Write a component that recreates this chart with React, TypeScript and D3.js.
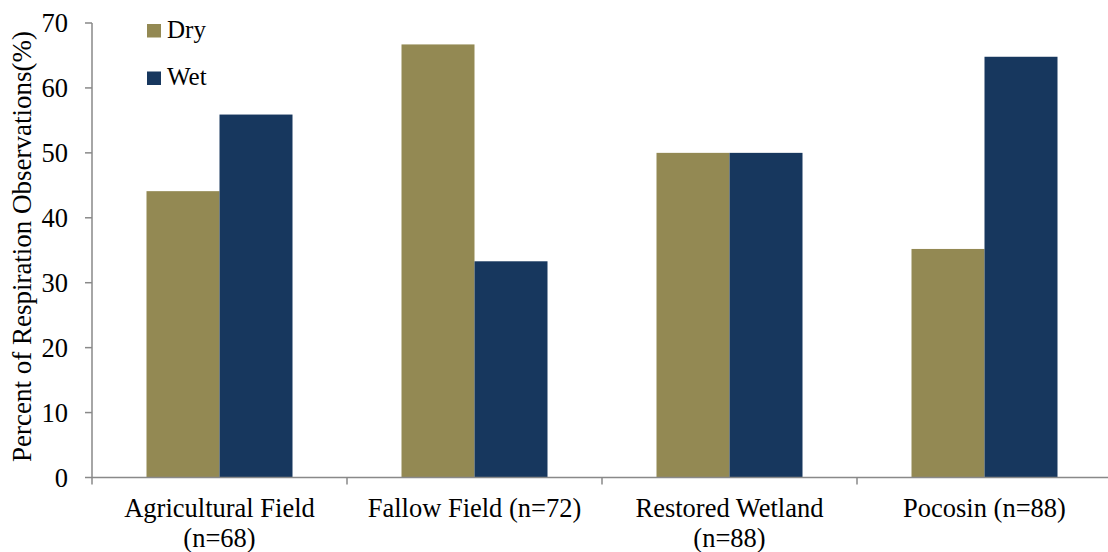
import React from "react";
import * as d3 from "d3";

const categories = ["Agricultural Field|(n=68)", "Fallow Field (n=72)", "Restored Wetland|(n=88)", "Pocosin (n=88)"];
const seriesNames = ["Dry", "Wet"];
const dryValues = [44.1, 66.7, 50.0, 35.2];
const wetValues = [55.9, 33.3, 50.0, 64.8];
const yTicks = [0, 10, 20, 30, 40, 50, 60, 70];
const colors = ["#938953", "#17375E"];

const W = 1108;
const H = 552;
const FONT = "'Liberation Serif', 'Times New Roman', serif";

export default function App() {
  const left = 92;
  const x = d3.scaleBand<string>().domain(categories).range([left, left + 4 * 255]).paddingInner(0).paddingOuter(0);
  const y = d3.scaleLinear().domain([0, 70]).range([477.5, 23]);
  const series = [dryValues, wetValues];
  const barW = 73;
  const gapSide = (x.bandwidth() - 2 * barW) / 2;

  return (
    <svg width={W} height={H} style={{ position: "absolute", left: 0, top: 0, background: "#fff" }} fontFamily={FONT}>
      {categories.map((c, i) =>
        series.map((vals, s) => {
          const x0 = (x(c) as number) + gapSide + s * barW;
          return (
            <rect key={c + s} x={x0} y={y(vals[i])} width={barW} height={y(0) - y(vals[i])} fill={colors[s]} />
          );
        })
      )}
      {/* y axis */}
      <line x1={left} x2={left} y1={y(70)} y2={y(0)} stroke="#898989" strokeWidth={1.5} />
      {yTicks.map((t) => (
        <g key={t}>
          <line x1={left - 7} x2={left} y1={y(t)} y2={y(t)} stroke="#898989" strokeWidth={1.5} />
          <text x={68} y={y(t)} dy="0.35em" textAnchor="end" fontSize={26.5} fill="#000">
            {t}
          </text>
        </g>
      ))}
      {/* x axis */}
      <line x1={left} x2={W} y1={y(0)} y2={y(0)} stroke="#898989" strokeWidth={1.5} />
      {categories.map((c, i) => (
        <line key={"t" + i} x1={(x(c) as number)} x2={(x(c) as number)} y1={y(0)} y2={y(0) + 7} stroke="#898989" strokeWidth={1.5} />
      ))}
      <line x1={left + 4 * 255} x2={left + 4 * 255} y1={y(0)} y2={y(0) + 7} stroke="#898989" strokeWidth={1.5} />
      {categories.map((c) => {
        const lines = c.split("|");
        const cx = (x(c) as number) + x.bandwidth() / 2;
        return (
          <text key={c} x={cx} y={517} textAnchor="middle" fontSize={26.5} fill="#000">
            {lines.map((l, k) => (
              <tspan key={k} x={cx} dy={k === 0 ? 0 : 29.5}>
                {l}
              </tspan>
            ))}
          </text>
        );
      })}
      {/* y title */}
      <text transform={`translate(31, 246.5) rotate(-90)`} textAnchor="middle" fontSize={27} fill="#000">
        Percent of Respiration Observations(%)
      </text>
      {/* legend */}
      {seriesNames.map((n, s) => (
        <g key={n} transform={`translate(147, ${24 + s * 47.5})`}>
          <rect x={0} y={0} width={14} height={13.5} fill={colors[s]} />
          <text x={20} y={13.5} fontSize={25} fill="#000">
            {n}
          </text>
        </g>
      ))}
    </svg>
  );
}
